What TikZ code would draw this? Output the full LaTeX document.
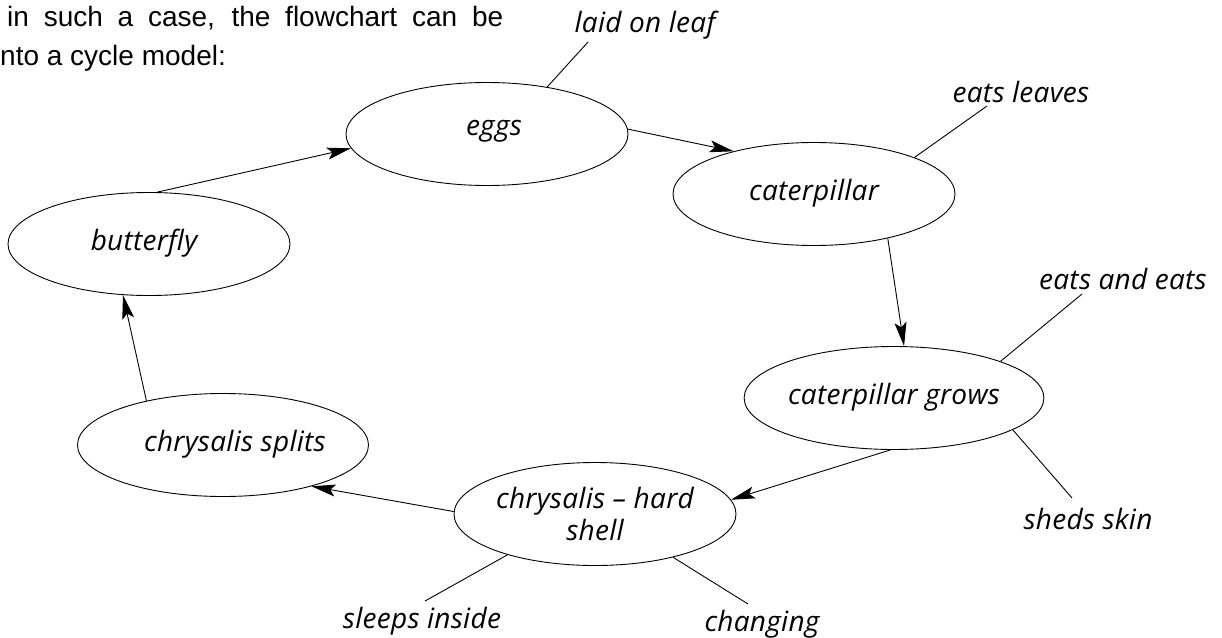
\documentclass[tikz,border=0pt]{standalone}
\usepackage{fontspec}
\usetikzlibrary{shapes.geometric,arrows.meta}
\newfontfamily\helv{Liberation Sans}
\newfontfamily\hand{Open Sans}[LetterSpace=1]
\newcommand{\handfont}{\hand\itshape\fontsize{28}{32}\selectfont}
\begin{document}
\begin{tikzpicture}[x=1pt,y=-1pt,
  stage/.style={ellipse,draw,line width=0.9pt,minimum width=282pt,minimum height=103pt,
    inner sep=0pt,font=\handfont,text height=12pt,text depth=0pt,align=center},
  note/.style={font=\handfont,inner sep=0pt,anchor=base},
  flow/.style={line width=0.9pt,-{Stealth[length=24pt,width=12pt,inset=5pt]}},
  link/.style={line width=0.9pt},
  intro/.style={font=\helv\fontsize{28}{38}\selectfont,inner sep=0pt,anchor=base west}]
\useasboundingbox (0,0) rectangle (1222,637);
% intro text
\node[intro] (introA) at (7,27) {\makebox[496pt][s]{in such a case, the flowchart can be}};
\node[intro] (introB) at (0,65) {nto a cycle model:};
% stages
\node[stage,text depth=10pt] (eggs) at (487,134) {\hspace*{14pt}eggs};
\node[stage] (cat) at (814,194) {caterpillar};
\node[stage] (grow) at (894,398) {caterpillar grows};
\node[stage,text height=52pt,text depth=0pt] (shell) at (595,514) {chrysalis – hard\\shell};
\node[stage] (split) at (223,445) {\hspace*{24pt}chrysalis splits};
\node[stage] (fly) at (149,244) {butterfly\hspace*{10pt}};
% cycle arrows
\draw[flow] (fly.81) -- (eggs.186);
\draw[flow] (eggs.2) -- (cat.152);
\draw[flow] (cat.-31) -- (grow.79);
\draw[flow] (grow.266) -- (shell.6);
\draw[flow] (shell.179) -- (split.-25);
\draw[flow] (split.150) -- (fly.243);
% notes
\node[note] (leaf) at (645,32) {laid on leaf};
\node[note] (leaves) at (1021,102) {eats leaves};
\node[note] (eats) at (1123,289) {eats and eats};
\node[note] (sheds) at (1088,529) {sheds skin};
\node[note] (sleeps) at (422,628) {sleeps inside};
\node[note] (changing) at (762,631) {changing};
\coordinate (leafC) at (588,42);
\coordinate (leavesC) at (987,106);
\coordinate (eatsC) at (1082,294);
\coordinate (shedsC) at (1072,498);
\coordinate (sleepsC) at (425,601);
\coordinate (changingC) at (748,604);
\draw[link] (eggs.38) -- (leafC);
\draw[link] (cat.20) -- (leavesC);
\draw[link] (grow.19) -- (eatsC);
\draw[link] (grow.-15) -- (shedsC);
\draw[link] (shell.205) -- (sleepsC);
\draw[link] (shell.-29) -- (changingC);
\end{tikzpicture}
\end{document}
